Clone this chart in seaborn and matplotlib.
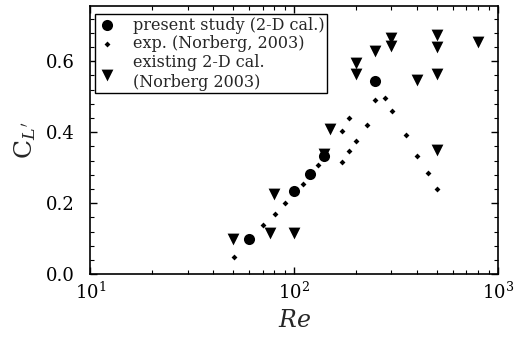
import numpy as np
import pandas as pd
import seaborn as sns
import matplotlib.pyplot as plt
from matplotlib.ticker import AutoMinorLocator, LogLocator

# data
re_present = [60, 100, 120, 140, 250]
cl_present = [0.098, 0.233, 0.283, 0.334, 0.544]

re_exp = [50.5, 70, 80.5, 90, 110, 131, 171, 171, 185, 185, 202, 227, 250, 278, 301, 352, 402, 454, 502]
cl_exp = [0.047, 0.138, 0.170, 0.201, 0.255, 0.307, 0.317, 0.404, 0.346, 0.441, 0.375, 0.421,
          0.492, 0.496, 0.459, 0.391, 0.334, 0.284, 0.240]

re_2d = [50, 76, 80, 100, 140, 150, 200, 200, 250, 300, 300, 400, 500, 500, 500, 500, 800]
cl_2d = [0.099, 0.117, 0.227, 0.117, 0.338, 0.41, 0.596, 0.563, 0.63, 0.666, 0.642,
         0.546, 0.674, 0.64, 0.563, 0.349, 0.654]

sns.set_style("ticks")
plt.rcParams["font.family"] = ["DejaVu Serif"]
plt.rcParams["mathtext.fontset"] = "dejavuserif"

fig = plt.figure(figsize=(5.31, 3.41), dpi=100)
ax = fig.add_axes([0.170, 0.196, 0.768, 0.786])

sns.scatterplot(x=re_present, y=cl_present, marker="o", s=64, color="black",
                edgecolor="black", linewidth=0, label="present study (2-D cal.)", ax=ax, zorder=3)
sns.scatterplot(x=re_exp, y=cl_exp, marker="D", s=9, color="black",
                edgecolor="black", linewidth=0, label="exp. (Norberg, 2003)", ax=ax, zorder=3)
sns.scatterplot(x=re_2d, y=cl_2d, marker="v", s=72, color="black",
                edgecolor="black", linewidth=0, label="existing 2-D cal.\n(Norberg 2003)", ax=ax, zorder=3)

ax.set_xscale("log")
ax.set_xlim(10, 1000)
ax.set_ylim(0, 0.755)
ax.set_yticks([0.0, 0.2, 0.4, 0.6])
ax.set_yticklabels(["0.0", "0.2", "0.4", "0.6"])
ax.yaxis.set_minor_locator(AutoMinorLocator(5))
ax.xaxis.set_major_locator(LogLocator(base=10))
ax.xaxis.set_minor_locator(LogLocator(base=10, subs=np.arange(2, 10)))

ax.tick_params(which="both", direction="in", top=True, right=True, colors="black")
ax.tick_params(which="major", length=5, width=1, labelsize=13)
ax.tick_params(axis="y", which="major", pad=11)
ax.tick_params(axis="x", which="major", pad=5)
ax.tick_params(which="minor", length=3, width=0.8)
for s in ax.spines.values():
    s.set_color("black")
    s.set_linewidth(1.2)

ax.set_xlabel(r"$Re$", fontsize=17, labelpad=5)
ax.set_ylabel(r"C$_{L'}$", fontsize=18, labelpad=6)

leg = ax.legend(loc="upper left", bbox_to_anchor=(0.012, 0.97), fontsize=11.5, frameon=True,
                fancybox=False, edgecolor="black", framealpha=1, handlelength=1.2,
                handletextpad=1.0, borderpad=0.15, labelspacing=0.12, borderaxespad=0)
leg.get_frame().set_linewidth(1.0)

fig.savefig("out.png", dpi=100)
